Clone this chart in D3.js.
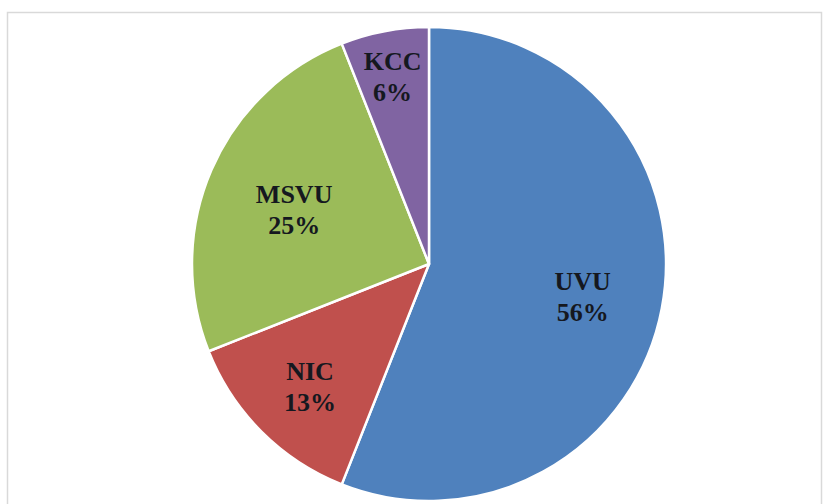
<!DOCTYPE html>
<html><head><meta charset="utf-8">
<script src="https://cdn.jsdelivr.net/npm/d3@7"></script>
<style>html,body{margin:0;padding:0;background:#fff;}svg{display:block;}</style>
</head><body>
<svg id="chart" width="828" height="504"></svg>
<script>
const categories = ["UVU", "NIC", "MSVU", "KCC"];
const values = [56, 13, 25, 6];
const colors = ["#4F81BD", "#C0504D", "#9BBB59", "#8064A2"];

const svg = d3.select("#chart");
svg.append("rect").attr("x", 7.5).attr("y", 12.5).attr("width", 814).attr("height", 500)
  .attr("fill", "#fff").attr("stroke", "#d9d9d9").attr("stroke-width", 1.5);

const cx = 429, cy = 264, r = 237;
const labelFactor = [0.66, 0.71, 0.62, 0.82];

const data = categories.map((c, i) => ({name: c, value: values[i], color: colors[i], lf: labelFactor[i]}));
const pie = d3.pie().value(d => d.value).sort(null);
const arcs = pie(data);
const arc = d3.arc().innerRadius(0).outerRadius(r);

const g = svg.append("g").attr("transform", `translate(${cx},${cy})`);
g.selectAll("path").data(arcs).join("path")
  .attr("d", arc)
  .attr("fill", d => d.data.color)
  .attr("stroke", "#fff").attr("stroke-width", 2.5).attr("stroke-linejoin", "round");

const labels = g.selectAll("text.lbl").data(arcs).join("text")
  .attr("class", "lbl")
  .attr("transform", d => {
    const a = (d.startAngle + d.endAngle) / 2;
    const rr = r * d.data.lf;
    return `translate(${rr * Math.sin(a)},${-rr * Math.cos(a)})`;
  })
  .attr("text-anchor", "middle")
  .attr("font-family", "'Liberation Serif', 'Times New Roman', serif")
  .attr("font-weight", "bold")
  .attr("font-size", 26)
  .attr("fill", "#15181f");
labels.append("tspan").attr("x", 0).attr("y", -3).text(d => d.data.name);
labels.append("tspan").attr("x", 0).attr("y", 28).text(d => d.data.value + "%");
</script>
</body></html>
